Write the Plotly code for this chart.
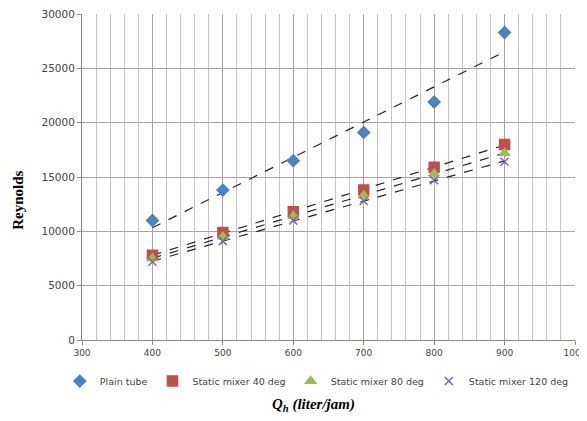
import numpy as np
import plotly.graph_objects as go

flow = [400, 500, 600, 700, 800, 900]
plain_tube = [11000, 13800, 16500, 19100, 21900, 28300]
mixer_40 = [7800, 9900, 11800, 13800, 15900, 18000]
mixer_80 = [7500, 9500, 11400, 13300, 15300, 17200]
mixer_120 = [7200, 9100, 11000, 12800, 14700, 16400]

series = [
    ("Plain tube", plain_tube, "diamond", "#4F81BD", 9),
    ("Static mixer 40 deg", mixer_40, "square", "#C0504D", 10),
    ("Static mixer 80 deg", mixer_80, "triangle-up", "#9BBB59", 9),
    ("Static mixer 120 deg", mixer_120, "x-thin-open", "#8064A2", 8),
]

fig = go.Figure()
for name, ys, sym, col, sz in series:
    k, b = np.polyfit(flow, ys, 1)
    xs = [flow[0], flow[-1]]
    fig.add_trace(go.Scatter(x=xs, y=[k * xs[0] + b, k * xs[1] + b], mode="lines",
                             line=dict(color="#222", width=1.2, dash="dash"),
                             showlegend=False, hoverinfo="skip"))
for name, ys, sym, col, sz in series:
    fig.add_trace(go.Scatter(x=flow, y=ys, mode="markers", name=name,
                             marker=dict(symbol=sym, color=col, size=sz,
                                         line=dict(color=col, width=1.5))))

fig.update_layout(
    width=579, height=413,
    margin=dict(l=74, r=12, t=6, b=81, autoexpand=False),
    paper_bgcolor="white", plot_bgcolor="white",
    font=dict(family="DejaVu Sans", size=9, color="#444"),
    legend=dict(orientation="h", x=-0.045, xanchor="left", y=-0.126, yanchor="middle",
                font=dict(size=9.5, color="#444"), itemwidth=30,
                tracegroupgap=0, bgcolor="rgba(0,0,0,0)"),
    xaxis=dict(range=[300, 1000], dtick=100, tick0=300, showgrid=True, gridcolor="#A6A6A6",
               gridwidth=1, showline=True, linecolor="#888", ticks="outside", ticklen=4,
               tickcolor="#888", zeroline=False, automargin=False,
               ticklabeloverflow="allow", tickfont=dict(size=9),
               minor=dict(dtick=20, showgrid=True, gridcolor="#C4C4C4", gridwidth=1)),
    yaxis=dict(range=[0, 30000], dtick=5000, tickformat="d", showgrid=True,
               gridcolor="#A6A6A6", showline=True, linecolor="#888", ticks="outside",
               ticklen=4, tickcolor="#888", zeroline=False, automargin=False,
               ticklabeloverflow="allow", tickfont=dict(size=10.5)),
    annotations=[
        dict(text="<b><i>Q<sub>h</sub> (liter/jam)</i></b>", xref="paper", yref="paper",
             x=0.47, y=-0.2, xanchor="center", yanchor="middle", showarrow=False,
             font=dict(family="Liberation Serif", size=15, color="#000")),
        dict(text="<b>Reynolds</b>", xref="paper", yref="paper", textangle=-90,
             x=-0.13, y=0.43, xanchor="center", yanchor="middle", showarrow=False,
             font=dict(family="Liberation Serif", size=15, color="#000")),
    ],
)
fig.write_html("out.html")
